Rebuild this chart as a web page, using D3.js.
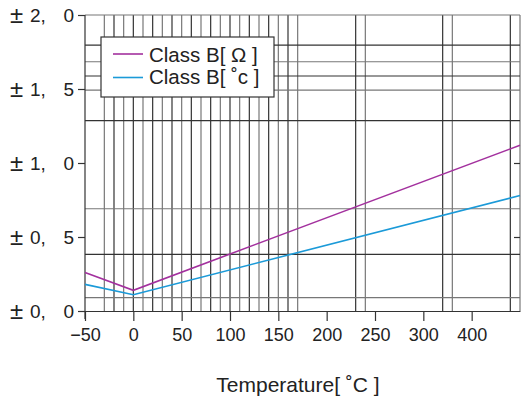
<html>
<head>
<meta charset="utf-8">
<script src="https://d3js.org/d3.v7.min.js"></script>
<style>
    body { margin: 0; background: #fff; }
    text { font-family: "Liberation Sans", Arial, sans-serif; fill: #222; }
    .grid line { stroke: #555; stroke-width: 1.2; }
    .axis path, .axis line { stroke: #333; stroke-width: 1.2; }
</style>
</head>
<body>
<svg width="521" height="399"></svg>
<script>
    // data
    var temps = [-50, 0, 400];
    var classBohm = [0.26, 0.14, 1.12];
    var classBdeg = [0.18, 0.11, 0.78];

    var seriesNames = ["Class B[ Ω ]", "Class B[ ˚c ]"];
    var xTickValues = [-50, 0, 50, 100, 150, 200, 250, 300, 350];
    var xTickLabels = ["\u221250", "0", "50", "100", "150", "200", "250", "300", "400"];
    var yTickValues = [0, 0.5, 1, 1.5, 2];
    var yTickLabels = ["±0, 0", "±0, 5", "±1, 0", "±1, 5", "±2, 0"];
    var xTitle = "Temperature[ ˚C ]";

    // grid lines as they appear on the sheet
    var vGrid = [-30, -20, -10, 0, 10, 20, 30, 40, 50, 60, 70, 80, 90, 100, 110, 120,
                 130, 140, 150, 160, 170, 230, 240, 320, 330, 390, 400];
    var hGrid = [0.09, 0.383, 0.691, 1.286, 1.493, 1.588, 1.684, 1.797, 2];

    var svg = d3.select("svg");
    var x = d3.scaleLinear().domain([-50, 400]).range([85, 520]);
    var y = d3.scaleLinear().domain([0, 2]).range([311, 15]);

    var grid = svg.append("g").attr("class", "grid");
    grid.selectAll(".v").data(vGrid).enter().append("line")
        .attr("x1", function(d) { return x(d); })
        .attr("x2", function(d) { return x(d); })
        .attr("y1", y(2)).attr("y2", y(0))
        .style("stroke", function(d, i) { return i % 2 ? "#333" : "#777"; });
    grid.selectAll(".h").data(hGrid).enter().append("line")
        .attr("x1", x(-50)).attr("x2", x(400))
        .attr("y1", function(d) { return y(d); })
        .attr("y2", function(d) { return y(d); })
        .style("stroke", function(d, i) { return i % 2 ? "#333" : "#777"; });

    // axes
    var xAxis = d3.axisBottom(x)
        .tickValues(xTickValues)
        .tickSize(10)
        .tickSizeOuter(0)
        .tickFormat(function(d, i) { return xTickLabels[i]; });
    var gx = svg.append("g").attr("class", "axis")
        .attr("transform", "translate(0," + y(0) + ")")
        .call(xAxis);
    gx.selectAll("text")
        .attr("y", 30).attr("dy", 0)
        .style("font-size", "18px");

    var yAxis = d3.axisLeft(y).tickValues(yTickValues).tickSize(7).tickSizeOuter(0).tickFormat("");
    var gy = svg.append("g").attr("class", "axis")
        .attr("transform", "translate(" + x(-50) + ",0)")
        .call(yAxis);
    gy.select(".domain").attr("d", "M0," + y(2) + "V" + (y(0) + 8));

    var yr = d3.axisRight(y).tickValues([0.5, 1]).tickSize(6).tickFormat("");
    svg.append("g").attr("class", "axis")
        .attr("transform", "translate(" + (x(400) - 6) + ",0)")
        .call(yr).select(".domain").remove();

    // y tick labels: "±2, 0"
    var yl = svg.append("g").selectAll("g").data(yTickValues).enter().append("g")
        .attr("transform", function(d) { return "translate(0," + (y(d) + 7) + ")"; })
        .style("font-size", "19px");
    yl.append("text").attr("x", 10).attr("y", 1).style("font-size", "24px")
        .text(function(d, i) { return yTickLabels[i].slice(0, 1); });
    yl.append("text").attr("x", 30).text(function(d, i) { return yTickLabels[i].split(" ")[0].slice(1); });
    yl.append("text").attr("x", 74).attr("text-anchor", "end")
        .text(function(d, i) { return yTickLabels[i].split(" ")[1]; });

    // series
    var line = d3.line()
        .x(function(d, i) { return x(temps[i]); })
        .y(function(d) { return y(d); });
    var colors = ["#a3309e", "#1b9ad8"];
    [classBohm, classBdeg].forEach(function(s, k) {
        svg.append("path").datum(s)
            .attr("d", line)
            .attr("fill", "none")
            .attr("stroke", colors[k])
            .attr("stroke-width", 1.6);
    });

    // legend
    var lg = svg.append("g");
    lg.append("rect").attr("x", 101).attr("y", 37).attr("width", 173).attr("height", 60)
        .attr("fill", "#fff").attr("stroke", "#333").attr("stroke-width", 1.2);
    seriesNames.forEach(function(name, k) {
        lg.append("line").attr("x1", 113).attr("x2", 143)
            .attr("y1", 54 + k * 23.5).attr("y2", 54 + k * 23.5)
            .attr("stroke", colors[k]).attr("stroke-width", 1.6);
        lg.append("text").attr("x", 149).attr("y", 62 + k * 22)
            .style("font-size", "20.5px").text(name);
    });

    svg.append("text").attr("x", 298).attr("y", 392)
        .attr("text-anchor", "middle")
        .style("font-size", "21px")
        .text(xTitle);
</script>
</body>
</html>
